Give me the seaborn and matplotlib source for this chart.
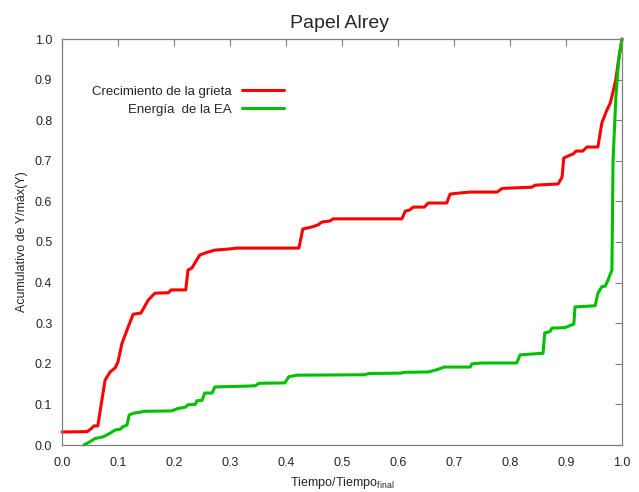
import numpy as np
import pandas as pd
import seaborn as sns
import matplotlib
matplotlib.use("Agg")
import matplotlib.pyplot as plt

# curva de crecimiento de la grieta
grieta_t = [0.0, 0.045, 0.052, 0.057, 0.064, 0.070, 0.077, 0.086, 0.095, 0.100,
            0.107, 0.116, 0.127, 0.141, 0.154, 0.166, 0.190, 0.195, 0.221, 0.225,
            0.232, 0.246, 0.260, 0.273, 0.300, 0.312, 0.423, 0.430, 0.446, 0.457,
            0.464, 0.479, 0.484, 0.607, 0.613, 0.621, 0.627, 0.647, 0.654, 0.687,
            0.693, 0.705, 0.729, 0.777, 0.786, 0.839, 0.845, 0.886, 0.893, 0.896,
            0.904, 0.913, 0.918, 0.930, 0.9375, 0.957, 0.964, 0.973, 0.979, 0.984,
            0.989, 0.993, 1.0]
grieta_y = [0.032, 0.033, 0.040, 0.047, 0.047, 0.10, 0.16, 0.18, 0.19, 0.205,
            0.25, 0.283, 0.322, 0.325, 0.357, 0.374, 0.375, 0.382, 0.382, 0.431,
            0.436, 0.468, 0.475, 0.480, 0.483, 0.485, 0.485, 0.532, 0.537, 0.542,
            0.549, 0.552, 0.557, 0.557, 0.576, 0.579, 0.586, 0.586, 0.596, 0.596,
            0.618, 0.620, 0.623, 0.623, 0.632, 0.635, 0.640, 0.643, 0.660, 0.707,
            0.712, 0.717, 0.724, 0.724, 0.734, 0.734, 0.793, 0.825, 0.842, 0.870,
            0.900, 0.940, 1.0]

# curva de energia de la EA
ea_t = [0.039, 0.050, 0.059, 0.073, 0.082, 0.095, 0.104, 0.109, 0.116, 0.120,
        0.127, 0.148, 0.196, 0.207, 0.220, 0.225, 0.238, 0.241, 0.250, 0.255,
        0.268, 0.273, 0.330, 0.345, 0.352, 0.398, 0.405, 0.420, 0.540, 0.548,
        0.605, 0.612, 0.655, 0.668, 0.675, 0.682, 0.729, 0.732, 0.750, 0.812,
        0.818, 0.859, 0.862, 0.871, 0.875, 0.898, 0.914, 0.916, 0.952, 0.957,
        0.964, 0.970, 0.975, 0.982, 0.984, 0.989, 0.9946, 1.0]
ea_y = [0.0, 0.008, 0.016, 0.020, 0.026, 0.037, 0.039, 0.045, 0.049, 0.074,
        0.078, 0.083, 0.084, 0.090, 0.093, 0.099, 0.100, 0.109, 0.110, 0.128,
        0.128, 0.143, 0.145, 0.146, 0.152, 0.153, 0.168, 0.172, 0.173, 0.176,
        0.177, 0.179, 0.180, 0.185, 0.188, 0.192, 0.192, 0.200, 0.202, 0.202,
        0.222, 0.226, 0.276, 0.279, 0.288, 0.289, 0.298, 0.340, 0.343, 0.374,
        0.390, 0.391, 0.406, 0.431, 0.700, 0.857, 0.955, 1.0]

ticks = np.round(np.arange(0, 1.01, 0.1), 1)

sns.set_style("white")
plt.rcParams['font.family'] = ['Liberation Sans', 'DejaVu Sans']

df = pd.concat([
    pd.DataFrame({'t': grieta_t, 'y': grieta_y, 'serie': 'Crecimiento de la grieta'}),
    pd.DataFrame({'t': ea_t, 'y': ea_y, 'serie': 'Energía  de la EA'}),
])

fig = plt.figure(figsize=(6.39, 4.92), dpi=100)
ax = fig.add_axes([62/639, 47/492, 560/639, 406/492])

sns.lineplot(data=df, x='t', y='y', hue='serie', sort=False, estimator=None,
             palette=['#ff0000', '#00c000'], linewidth=2.2, ax=ax, clip_on=False)

ax.set_xlim(0, 1)
ax.set_ylim(0, 1)
ax.set_xticks(ticks)
ax.set_yticks(ticks)
ax.set_xticklabels(['%.1f' % t for t in ticks])
ax.set_yticklabels(['%.1f' % t for t in ticks])
ax.tick_params(direction='in', length=5, width=0.8, color='#808080',
               top=True, right=True, labelsize=9)
ax.tick_params(axis='x', pad=9)
ax.tick_params(axis='y', pad=7)
for s in ax.spines.values():
    s.set_color('#808080')
    s.set_linewidth(0.9)

fig.text(340/639, 1 - 28/492, 'Papel Alrey', fontsize=14, ha='center', va='baseline')
ax.set_xlabel('Tiempo/Tiempo$_{\\mathregular{final}}$', fontsize=9, labelpad=4)
ax.set_ylabel('Acumulativo de Y/máx(Y)', fontsize=9, labelpad=5)

ax.legend(frameon=False, loc='upper right', bbox_to_anchor=(0.418, 0.915),
          markerfirst=False, fontsize=9.5, handlelength=3.2, handletextpad=0.8,
          labelspacing=0.45)

fig.savefig('out.png', dpi=100)
